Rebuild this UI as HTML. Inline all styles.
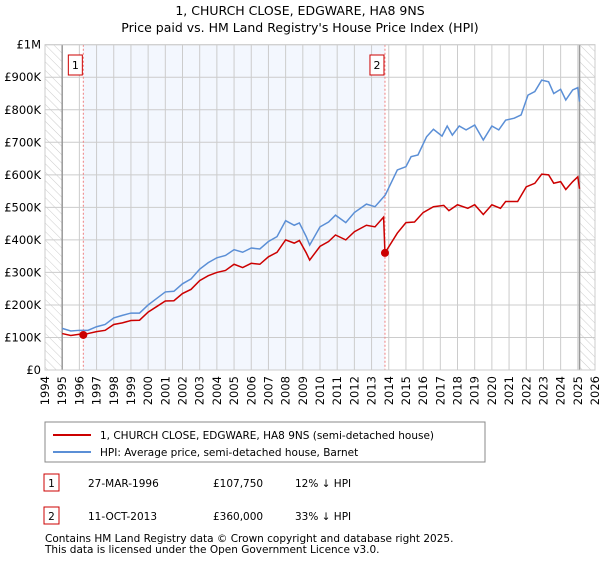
<!DOCTYPE html>
<html><head><meta charset="utf-8"><style>
body{margin:0;background:#fff;font-family:"DejaVu Sans",sans-serif;}
svg text{font-family:"DejaVu Sans","Liberation Sans",sans-serif;}
</style></head><body>
<svg width="600" height="560" viewBox="0 0 600 560">
<defs><pattern id="hatch" width="6" height="6" patternUnits="userSpaceOnUse" patternTransform="rotate(-45)"><line x1="0" y1="0" x2="0" y2="6" stroke="#ccc" stroke-width="1"/></pattern></defs>
<text x="300" y="15" text-anchor="middle" font-size="12.5">1, CHURCH CLOSE, EDGWARE, HA8 9NS</text>
<text x="300" y="32" text-anchor="middle" font-size="12.5">Price paid vs. HM Land Registry's House Price Index (HPI)</text>
<g id="plot"></g>
<g>
<rect x="45" y="422" width="440" height="40" fill="#fff" stroke="#888"/>
<line x1="53" y1="435" x2="91" y2="435" stroke="#cc0000" stroke-width="2"/>
<text x="100" y="439" font-size="10.5">1, CHURCH CLOSE, EDGWARE, HA8 9NS (semi-detached house)</text>
<line x1="53" y1="452" x2="91" y2="452" stroke="#5b8fd6" stroke-width="2"/>
<text x="100" y="456" font-size="10.5">HPI: Average price, semi-detached house, Barnet</text>
</g>
<g font-size="10.5">
<rect x="44" y="474" width="15" height="17" fill="#fff" stroke="#cc0000"/><text x="51.5" y="487" text-anchor="middle">1</text>
<text x="88" y="487">27-MAR-1996</text><text x="213" y="487">£107,750</text><text x="295" y="487">12% ↓ HPI</text>
<rect x="44" y="507" width="15" height="17" fill="#fff" stroke="#cc0000"/><text x="51.5" y="520" text-anchor="middle">2</text>
<text x="88" y="520">11-OCT-2013</text><text x="213" y="520">£360,000</text><text x="295" y="520">33% ↓ HPI</text>
</g>
<text x="45" y="542" font-size="10.5">Contains HM Land Registry data © Crown copyright and database right 2025.</text>
<text x="45" y="553" font-size="10.5">This data is licensed under the Open Government Licence v3.0.</text>
</svg>
<script>
const yearTicks=[1994,1995,1996,1997,1998,1999,2000,2001,2002,2003,2004,2005,2006,2007,2008,2009,2010,2011,2012,2013,2014,2015,2016,2017,2018,2019,2020,2021,2022,2023,2024,2025,2026];
const yTicks=[0,100,200,300,400,500,600,700,800,900,1000];
const yTickLabels=["£0","£100K","£200K","£300K","£400K","£500K","£600K","£700K","£800K","£900K","£1M"];
const hpiYears=[1995,1995.5,1996,1996.5,1997,1997.5,1998,1998.5,1999,1999.5,2000,2000.5,2001,2001.5,2002,2002.5,2003,2003.5,2004,2004.5,2005,2005.5,2006,2006.5,2007,2007.5,2008,2008.5,2008.8,2009.2,2009.4,2010,2010.5,2010.9,2011.5,2012,2012.7,2013.2,2013.8,2014.5,2015,2015.3,2015.7,2016.2,2016.6,2017.1,2017.4,2017.7,2018.1,2018.5,2019,2019.5,2020,2020.4,2020.8,2021.3,2021.7,2022.1,2022.5,2022.9,2023.3,2023.6,2024,2024.3,2024.7,2025,2025.1];
const hpiValues=[128,120,122,122,133,140,160,168,175,175,200,220,240,242,265,280,310,330,345,352,370,362,375,372,395,410,459,445,452,410,384,440,455,476,453,484,510,502,538,615,625,656,661,717,740,719,750,722,750,738,753,707,750,738,768,774,784,845,856,891,886,850,863,830,861,868,825];
const priceYears=[1995,1995.5,1996,1996.23,1996.5,1997,1997.5,1998,1998.5,1999,1999.5,2000,2000.5,2001,2001.5,2002,2002.5,2003,2003.5,2004,2004.5,2005,2005.5,2006,2006.5,2007,2007.5,2008,2008.5,2008.8,2009.2,2009.4,2010,2010.5,2010.9,2011.5,2012,2012.7,2013.2,2013.7,2013.78,2014.5,2015,2015.5,2016,2016.6,2017.2,2017.5,2018,2018.6,2019,2019.5,2020,2020.5,2020.8,2021.5,2022,2022.5,2022.9,2023.3,2023.6,2024,2024.3,2024.7,2025,2025.1];
const priceValues=[112,106,110,107.75,112,118,122,140,145,152,153,178,195,212,213,235,248,275,290,300,306,325,315,328,325,348,362,400,390,398,360,338,380,395,415,400,425,445,440,470,360,421,453,455,484,502,506,490,508,497,508,478,508,497,518,518,563,574,602,600,574,579,555,579,594,557];
const saleYears=[1996.23,2013.78];
const saleValues=[107.75,360];
const saleLabels=["1","2"];
const X0=45,X1=595,Y0=370,Y1=44.7;
const sx=y=>X0+(y-1994)/(2026-1994)*(X1-X0);
const sy=v=>Y0-v/1000*(Y0-Y1);
const NS="http://www.w3.org/2000/svg";
const g=document.getElementById('plot');
function mk(t,a,p){const e=document.createElementNS(NS,t);for(const k in a)e.setAttribute(k,a[k]);(p||g).appendChild(e);return e;}
let e;
e=mk('rect',{x:X0,y:Y1,width:X1-X0,height:Y0-Y1,fill:'#fff'});

e=mk('rect',{x:sx(saleYears[0]),y:Y1,width:sx(saleYears[1])-sx(saleYears[0]),height:Y0-Y1,fill:'#eef3fd',opacity:0.7});

e=mk('rect',{x:X0,y:Y1,width:sx(1995)-X0,height:Y0-Y1,fill:'url(#hatch)'});

e=mk('rect',{x:sx(2025.1),y:Y1,width:X1-sx(2025.1),height:Y0-Y1,fill:'url(#hatch)'});

yearTicks.forEach(y=>{
 e=mk('line',{x1:sx(y),x2:sx(y),y1:Y1,y2:Y0,stroke:'#ccc','stroke-width':1});
 
 e=mk('text',{x:0,y:0,'font-size':11.5,'text-anchor':'end',transform:`translate(${sx(y)+4},${Y0+6}) rotate(-90)`});
 e.textContent=y;
 
});
yTicks.forEach((v,i)=>{
 e=mk('line',{x1:X0,x2:X1,y1:sy(v),y2:sy(v),stroke:'#ccc','stroke-width':1});
 
 e=mk('text',{x:X0-4,y:sy(v)+4,'font-size':11.5,'text-anchor':'end'});
 e.textContent=yTickLabels[i];
 
});
e=mk('line',{x1:sx(1995),x2:sx(1995),y1:Y1,y2:Y0,stroke:'#999','stroke-width':1.5});

e=mk('line',{x1:sx(2025.1),x2:sx(2025.1),y1:Y1,y2:Y0,stroke:'#999','stroke-width':1.5});

saleYears.forEach((y,i)=>{
 e=mk('line',{x1:sx(y),x2:sx(y),y1:Y1,y2:Y0,stroke:'#f08080','stroke-width':1,'stroke-dasharray':'2,2'});
 
 e=mk('rect',{x:sx(y)-15,y:55,width:14,height:20,fill:'#fff',stroke:'#cc0000'});
 
 e=mk('text',{x:sx(y)-8,y:69,'font-size':11,'text-anchor':'middle'});
 e.textContent=saleLabels[i];
 
});
e=mk('rect',{x:X0,y:Y1,width:X1-X0,height:Y0-Y1,fill:'none',stroke:'#ccc'});

e=mk('polyline',{points:hpiYears.map((y,i)=>sx(y)+','+sy(hpiValues[i])).join(' '),fill:'none',stroke:'#5b8fd6','stroke-width':1.5});

e=mk('polyline',{points:priceYears.map((y,i)=>sx(y)+','+sy(priceValues[i])).join(' '),fill:'none',stroke:'#cc0000','stroke-width':1.5});

saleYears.forEach((y,i)=>{
 e=mk('circle',{cx:sx(y),cy:sy(saleValues[i]),r:4,fill:'#cc0000'});
 
});
</script>
</body></html>
